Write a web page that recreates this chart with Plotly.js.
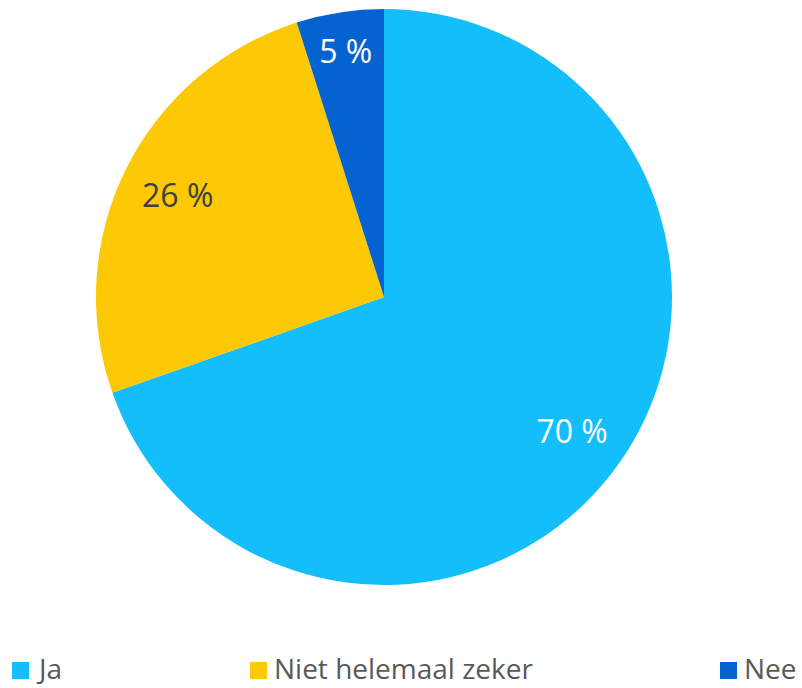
<!DOCTYPE html>
<html>
<head>
<meta charset="utf-8">
<script src="https://cdn.plot.ly/plotly-3.0.1.min.js"></script>
<style>html,body{margin:0;padding:0;background:#fff;}#chart{width:802px;height:688px;}</style>
</head>
<body>
<div id="chart"></div>
<script>
const categories = ["Ja", "Niet helemaal zeker", "Nee"];
const values = [69.6, 25.5, 4.9];
const valueLabels = ["70 %", "26 %", "5 %"];
const colors = ["#14BEFA", "#FDC905", "#0563D1"];
const labelColors = ["#FFFFFF", "#404040", "#FFFFFF"];
const legendX = [12, 250, 720];

const W = 802, H = 688, T = 9, B = 103;
const py = p => (H - B - p) / (H - T - B);
const shapes = [], annotations = [];
categories.forEach((c, i) => {
  shapes.push({type: "rect", xref: "paper", yref: "paper",
    x0: legendX[i] / W, x1: (legendX[i] + 17) / W, y0: py(679), y1: py(662),
    fillcolor: colors[i], line: {width: 0}});
  annotations.push({xref: "paper", yref: "paper", x: (legendX[i] + 23) / W, y: py(688),
    xanchor: "left", yanchor: "bottom", showarrow: false, text: c, borderpad: 0,
    font: {family: "Open Sans", size: 28, color: "#595959"}});
});

const domain = {x: [0, 768 / 802], y: [0, 1]};
const data = [{
  type: "pie",
  labels: categories,
  values: values,
  textinfo: "none",
  marker: {colors: colors, line: {width: 0}},
  sort: false,
  direction: "clockwise",
  rotation: 0,
  domain: domain,
  hoverinfo: "label+percent"
}, {
  type: "pie",
  labels: categories,
  values: values,
  text: valueLabels,
  textinfo: "text",
  textposition: "inside",
  insidetextorientation: "horizontal",
  insidetextfont: {family: "Open Sans", size: 32, color: labelColors},
  marker: {colors: ["rgba(0,0,0,0)", "rgba(0,0,0,0)", "rgba(0,0,0,0)"], line: {width: 0}},
  hole: 0.6,
  sort: false,
  direction: "clockwise",
  rotation: 0,
  domain: domain,
  hoverinfo: "skip"
}];

const layout = {
  width: W, height: H,
  margin: {l: 0, r: 0, t: T, b: B},
  showlegend: false,
  paper_bgcolor: "#FFFFFF",
  shapes: shapes,
  annotations: annotations
};

Plotly.newPlot("chart", data, layout, {displayModeBar: false, staticPlot: true});
</script>
</body>
</html>
